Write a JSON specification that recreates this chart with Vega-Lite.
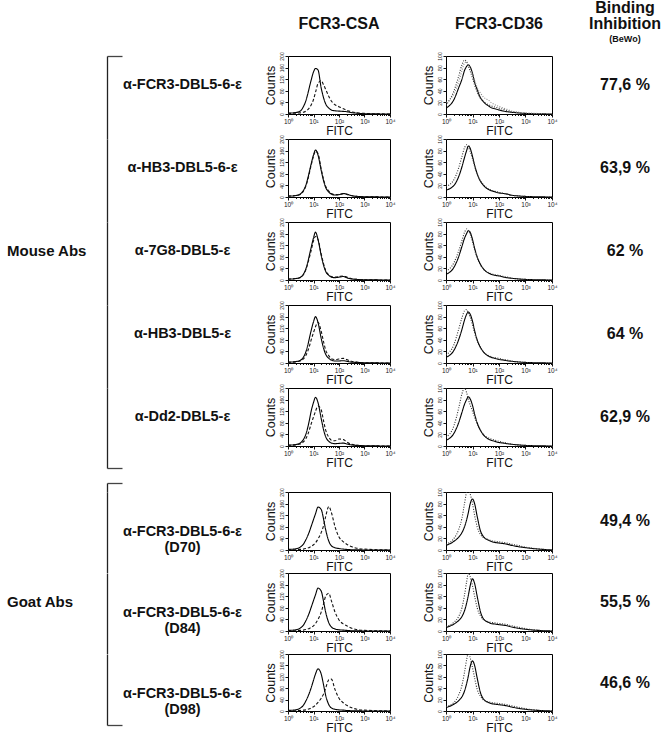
{
"$schema":"https://vega.github.io/schema/vega-lite/v6.json",
"padding":{"left":0,"top":0,"right":0,"bottom":0},
"background":"white",
"data":{"name":"h"},
"config":{"view":{"stroke":null},"font":"Liberation Sans",
"axis":{"grid":false,"domain":false,"labelFont":"Liberation Sans","titleFont":"Liberation Sans","titleFontWeight":"normal","labelColor":"#222","tickColor":"#111","titleColor":"#111"},
"axisX":{"labelFontSize":6.5,"labelPadding":1,"titleFontSize":12,"titlePadding":1,"labelFlush":false,"labelOverlap":false},
"axisY":{"labelFontSize":5,"labelAngle":-90,"labelPadding":1,"tickSize":3,"titleFontSize":12.5,"titlePadding":2,"labelOverlap":false,"labelFlush":false}},
"datasets":{
"mouse":[
{"row":1,"label":"α-FCR3-DBL5-6-ε","pct":"77,6 %","group":"Mouse Abs"},
{"row":2,"label":"α-HB3-DBL5-6-ε","pct":"63,9 %","group":"Mouse Abs"},
{"row":3,"label":"α-7G8-DBL5-ε","pct":"62 %","group":"Mouse Abs"},
{"row":4,"label":"α-HB3-DBL5-ε","pct":"64 %","group":"Mouse Abs"},
{"row":5,"label":"α-Dd2-DBL5-ε","pct":"62,9 %","group":"Mouse Abs"}],
"goat":[
{"row":1,"label":"α-FCR3-DBL5-6-ε\n(D70)","pct":"49,4 %","group":"Goat Abs"},
{"row":2,"label":"α-FCR3-DBL5-6-ε\n(D84)","pct":"55,5 %","group":"Goat Abs"},
{"row":3,"label":"α-FCR3-DBL5-6-ε\n(D98)","pct":"46,6 %","group":"Goat Abs"}],
"h":[
{"p":"M1A","x":1,"a":3,"b":2},{"p":"M1A","x":2,"a":5,"b":3},{"p":"M1A","x":3,"a":10,"b":4},{"p":"M1A","x":4,"a":25,"b":6},{"p":"M1A","x":5,"a":45,"b":10},{"p":"M1A","x":6,"a":70,"b":15},{"p":"M1A","x":7,"a":95,"b":22},{"p":"M1A","x":8,"a":115,"b":30},{"p":"M1A","x":10,"a":145,"b":50},{"p":"M1A","x":12,"a":157,"b":75},{"p":"M1A","x":15,"a":152,"b":105},{"p":"M1A","x":20,"a":90,"b":115},{"p":"M1A","x":25,"a":55,"b":100},{"p":"M1A","x":30,"a":35,"b":85},{"p":"M1A","x":40,"a":20,"b":60},{"p":"M1A","x":50,"a":14,"b":45},{"p":"M1A","x":70,"a":11,"b":32},{"p":"M1A","x":100,"a":10,"b":25},{"p":"M1A","x":150,"a":9,"b":18},{"p":"M1A","x":200,"a":8,"b":13},{"p":"M1A","x":300,"a":5,"b":8},{"p":"M1A","x":500,"a":3,"b":4},{"p":"M1A","x":1000,"a":1,"b":2},{"p":"M1A","x":10000,"a":0,"b":0},
{"p":"M1B","x":1,"a":10,"d":15,"g":20},{"p":"M1B","x":2,"a":25,"d":40,"g":35},{"p":"M1B","x":3,"a":45,"d":65,"g":55},{"p":"M1B","x":4,"a":60,"d":85,"g":75},{"p":"M1B","x":5,"a":75,"d":93,"g":88},{"p":"M1B","x":6,"a":82,"d":90,"g":90},{"p":"M1B","x":7,"a":85,"d":82,"g":85},{"p":"M1B","x":8,"a":82,"d":75,"g":80},{"p":"M1B","x":10,"a":70,"d":62,"g":68},{"p":"M1B","x":12,"a":55,"d":50,"g":58},{"p":"M1B","x":15,"a":42,"d":38,"g":46},{"p":"M1B","x":20,"a":28,"d":27,"g":36},{"p":"M1B","x":25,"a":22,"d":22,"g":30},{"p":"M1B","x":30,"a":18,"d":19,"g":27},{"p":"M1B","x":40,"a":14,"d":16,"g":24},{"p":"M1B","x":50,"a":11,"d":14,"g":20},{"p":"M1B","x":70,"a":9,"d":12,"g":16},{"p":"M1B","x":100,"a":7,"d":10,"g":13},{"p":"M1B","x":150,"a":5,"d":8,"g":10},{"p":"M1B","x":200,"a":4,"d":6,"g":8},{"p":"M1B","x":300,"a":3,"d":4,"g":5},{"p":"M1B","x":500,"a":2,"d":3,"g":3},{"p":"M1B","x":1000,"a":1,"d":1,"g":2},{"p":"M1B","x":10000,"a":0,"d":0,"g":0},
{"p":"M2A","x":1,"a":3,"b":3},{"p":"M2A","x":2,"a":5,"b":5},{"p":"M2A","x":3,"a":10,"b":9},{"p":"M2A","x":4,"a":22,"b":20},{"p":"M2A","x":5,"a":40,"b":38},{"p":"M2A","x":6,"a":65,"b":60},{"p":"M2A","x":7,"a":90,"b":85},{"p":"M2A","x":8,"a":112,"b":108},{"p":"M2A","x":10,"a":145,"b":140},{"p":"M2A","x":12,"a":162,"b":158},{"p":"M2A","x":15,"a":145,"b":150},{"p":"M2A","x":20,"a":92,"b":97},{"p":"M2A","x":25,"a":55,"b":60},{"p":"M2A","x":30,"a":33,"b":37},{"p":"M2A","x":40,"a":17,"b":20},{"p":"M2A","x":50,"a":10,"b":12},{"p":"M2A","x":70,"a":7,"b":8},{"p":"M2A","x":100,"a":8,"b":9},{"p":"M2A","x":150,"a":12,"b":11},{"p":"M2A","x":200,"a":10,"b":9},{"p":"M2A","x":300,"a":5,"b":5},{"p":"M2A","x":500,"a":2,"b":2},{"p":"M2A","x":1000,"a":1,"b":1},{"p":"M2A","x":10000,"a":0,"b":0},
{"p":"M2B","x":1,"a":12,"d":18},{"p":"M2B","x":2,"a":20,"d":30},{"p":"M2B","x":3,"a":35,"d":50},{"p":"M2B","x":4,"a":52,"d":70},{"p":"M2B","x":5,"a":68,"d":85},{"p":"M2B","x":6,"a":80,"d":90},{"p":"M2B","x":7,"a":88,"d":86},{"p":"M2B","x":8,"a":85,"d":80},{"p":"M2B","x":10,"a":70,"d":66},{"p":"M2B","x":12,"a":55,"d":53},{"p":"M2B","x":15,"a":40,"d":40},{"p":"M2B","x":20,"a":27,"d":28},{"p":"M2B","x":25,"a":21,"d":22},{"p":"M2B","x":30,"a":17,"d":18},{"p":"M2B","x":40,"a":13,"d":14},{"p":"M2B","x":50,"a":11,"d":12},{"p":"M2B","x":70,"a":9,"d":10},{"p":"M2B","x":100,"a":7,"d":8},{"p":"M2B","x":150,"a":6,"d":6},{"p":"M2B","x":200,"a":5,"d":5},{"p":"M2B","x":300,"a":3,"d":3},{"p":"M2B","x":500,"a":2,"d":2},{"p":"M2B","x":1000,"a":1,"d":1},{"p":"M2B","x":10000,"a":0,"d":0},
{"p":"M3A","x":1,"a":3,"b":3},{"p":"M3A","x":2,"a":5,"b":5},{"p":"M3A","x":3,"a":9,"b":8},{"p":"M3A","x":4,"a":20,"b":18},{"p":"M3A","x":5,"a":38,"b":35},{"p":"M3A","x":6,"a":62,"b":58},{"p":"M3A","x":7,"a":88,"b":80},{"p":"M3A","x":8,"a":110,"b":100},{"p":"M3A","x":10,"a":145,"b":135},{"p":"M3A","x":12,"a":165,"b":150},{"p":"M3A","x":15,"a":140,"b":140},{"p":"M3A","x":20,"a":85,"b":90},{"p":"M3A","x":25,"a":50,"b":55},{"p":"M3A","x":30,"a":30,"b":33},{"p":"M3A","x":40,"a":16,"b":18},{"p":"M3A","x":50,"a":10,"b":12},{"p":"M3A","x":70,"a":8,"b":10},{"p":"M3A","x":100,"a":10,"b":12},{"p":"M3A","x":150,"a":12,"b":14},{"p":"M3A","x":200,"a":8,"b":10},{"p":"M3A","x":300,"a":4,"b":5},{"p":"M3A","x":500,"a":2,"b":2},{"p":"M3A","x":1000,"a":1,"b":1},{"p":"M3A","x":10000,"a":0,"b":0},
{"p":"M3B","x":1,"a":10,"d":15},{"p":"M3B","x":2,"a":22,"d":30},{"p":"M3B","x":3,"a":40,"d":50},{"p":"M3B","x":4,"a":58,"d":68},{"p":"M3B","x":5,"a":72,"d":82},{"p":"M3B","x":6,"a":80,"d":88},{"p":"M3B","x":7,"a":85,"d":85},{"p":"M3B","x":8,"a":83,"d":80},{"p":"M3B","x":10,"a":70,"d":66},{"p":"M3B","x":12,"a":55,"d":52},{"p":"M3B","x":15,"a":40,"d":38},{"p":"M3B","x":20,"a":27,"d":26},{"p":"M3B","x":25,"a":20,"d":20},{"p":"M3B","x":30,"a":16,"d":16},{"p":"M3B","x":40,"a":12,"d":13},{"p":"M3B","x":50,"a":10,"d":11},{"p":"M3B","x":70,"a":8,"d":9},{"p":"M3B","x":100,"a":7,"d":8},{"p":"M3B","x":150,"a":5,"d":6},{"p":"M3B","x":200,"a":4,"d":5},{"p":"M3B","x":300,"a":3,"d":3},{"p":"M3B","x":500,"a":2,"d":2},{"p":"M3B","x":1000,"a":1,"d":1},{"p":"M3B","x":10000,"a":0,"d":0},
{"p":"M4A","x":1,"a":3,"b":2},{"p":"M4A","x":2,"a":5,"b":4},{"p":"M4A","x":3,"a":9,"b":7},{"p":"M4A","x":4,"a":20,"b":14},{"p":"M4A","x":5,"a":38,"b":26},{"p":"M4A","x":6,"a":62,"b":42},{"p":"M4A","x":7,"a":88,"b":60},{"p":"M4A","x":8,"a":110,"b":78},{"p":"M4A","x":10,"a":142,"b":105},{"p":"M4A","x":12,"a":160,"b":125},{"p":"M4A","x":15,"a":140,"b":140},{"p":"M4A","x":20,"a":85,"b":110},{"p":"M4A","x":25,"a":50,"b":72},{"p":"M4A","x":30,"a":30,"b":45},{"p":"M4A","x":40,"a":16,"b":25},{"p":"M4A","x":50,"a":10,"b":15},{"p":"M4A","x":70,"a":7,"b":12},{"p":"M4A","x":100,"a":7,"b":14},{"p":"M4A","x":150,"a":8,"b":16},{"p":"M4A","x":200,"a":6,"b":12},{"p":"M4A","x":300,"a":3,"b":6},{"p":"M4A","x":500,"a":2,"b":3},{"p":"M4A","x":1000,"a":1,"b":1},{"p":"M4A","x":10000,"a":0,"b":0},
{"p":"M4B","x":1,"a":10,"d":14},{"p":"M4B","x":2,"a":22,"d":32},{"p":"M4B","x":3,"a":40,"d":58},{"p":"M4B","x":4,"a":58,"d":78},{"p":"M4B","x":5,"a":74,"d":90},{"p":"M4B","x":6,"a":84,"d":92},{"p":"M4B","x":7,"a":88,"d":86},{"p":"M4B","x":8,"a":85,"d":80},{"p":"M4B","x":10,"a":72,"d":66},{"p":"M4B","x":12,"a":56,"d":52},{"p":"M4B","x":15,"a":40,"d":38},{"p":"M4B","x":20,"a":27,"d":26},{"p":"M4B","x":25,"a":20,"d":20},{"p":"M4B","x":30,"a":16,"d":16},{"p":"M4B","x":40,"a":12,"d":13},{"p":"M4B","x":50,"a":10,"d":11},{"p":"M4B","x":70,"a":8,"d":9},{"p":"M4B","x":100,"a":6,"d":8},{"p":"M4B","x":150,"a":5,"d":6},{"p":"M4B","x":200,"a":4,"d":5},{"p":"M4B","x":300,"a":3,"d":3},{"p":"M4B","x":500,"a":2,"d":2},{"p":"M4B","x":1000,"a":1,"d":1},{"p":"M4B","x":10000,"a":0,"d":0},
{"p":"M5A","x":1,"a":3,"b":2},{"p":"M5A","x":2,"a":5,"b":4},{"p":"M5A","x":3,"a":10,"b":7},{"p":"M5A","x":4,"a":22,"b":14},{"p":"M5A","x":5,"a":40,"b":25},{"p":"M5A","x":6,"a":65,"b":40},{"p":"M5A","x":7,"a":92,"b":58},{"p":"M5A","x":8,"a":118,"b":75},{"p":"M5A","x":10,"a":150,"b":100},{"p":"M5A","x":12,"a":168,"b":120},{"p":"M5A","x":15,"a":150,"b":138},{"p":"M5A","x":20,"a":95,"b":125},{"p":"M5A","x":25,"a":55,"b":85},{"p":"M5A","x":30,"a":32,"b":55},{"p":"M5A","x":40,"a":16,"b":30},{"p":"M5A","x":50,"a":10,"b":20},{"p":"M5A","x":70,"a":8,"b":18},{"p":"M5A","x":100,"a":9,"b":24},{"p":"M5A","x":150,"a":10,"b":22},{"p":"M5A","x":200,"a":7,"b":14},{"p":"M5A","x":300,"a":4,"b":6},{"p":"M5A","x":500,"a":2,"b":3},{"p":"M5A","x":1000,"a":1,"b":1},{"p":"M5A","x":10000,"a":0,"b":0},
{"p":"M5B","x":1,"a":10,"d":15},{"p":"M5B","x":2,"a":22,"d":35},{"p":"M5B","x":3,"a":40,"d":65},{"p":"M5B","x":4,"a":58,"d":90},{"p":"M5B","x":5,"a":72,"d":100},{"p":"M5B","x":6,"a":80,"d":92},{"p":"M5B","x":7,"a":85,"d":80},{"p":"M5B","x":8,"a":82,"d":72},{"p":"M5B","x":10,"a":70,"d":60},{"p":"M5B","x":12,"a":55,"d":50},{"p":"M5B","x":15,"a":40,"d":38},{"p":"M5B","x":20,"a":27,"d":27},{"p":"M5B","x":25,"a":20,"d":21},{"p":"M5B","x":30,"a":16,"d":17},{"p":"M5B","x":40,"a":12,"d":14},{"p":"M5B","x":50,"a":10,"d":12},{"p":"M5B","x":70,"a":8,"d":10},{"p":"M5B","x":100,"a":6,"d":8},{"p":"M5B","x":150,"a":5,"d":6},{"p":"M5B","x":200,"a":4,"d":5},{"p":"M5B","x":300,"a":3,"d":3},{"p":"M5B","x":500,"a":2,"d":2},{"p":"M5B","x":1000,"a":1,"d":1},{"p":"M5B","x":10000,"a":0,"d":0},
{"p":"G1A","x":1,"a":2,"b":0},{"p":"G1A","x":2,"a":4,"b":1},{"p":"G1A","x":3,"a":10,"b":2},{"p":"G1A","x":4,"a":20,"b":3},{"p":"G1A","x":5,"a":35,"b":5},{"p":"G1A","x":6,"a":50,"b":7},{"p":"G1A","x":7,"a":65,"b":9},{"p":"G1A","x":8,"a":80,"b":12},{"p":"G1A","x":10,"a":105,"b":18},{"p":"G1A","x":12,"a":125,"b":25},{"p":"G1A","x":15,"a":148,"b":38},{"p":"G1A","x":20,"a":140,"b":60},{"p":"G1A","x":25,"a":105,"b":85},{"p":"G1A","x":30,"a":70,"b":115},{"p":"G1A","x":40,"a":30,"b":150},{"p":"G1A","x":50,"a":15,"b":130},{"p":"G1A","x":70,"a":8,"b":80},{"p":"G1A","x":100,"a":5,"b":45},{"p":"G1A","x":150,"a":3,"b":28},{"p":"G1A","x":200,"a":2,"b":20},{"p":"G1A","x":300,"a":1,"b":12},{"p":"G1A","x":500,"a":1,"b":6},{"p":"G1A","x":1000,"a":0,"b":3},{"p":"G1A","x":10000,"a":0,"b":0},
{"p":"G1B","x":1,"a":8,"d":10},{"p":"G1B","x":2,"a":15,"d":20},{"p":"G1B","x":3,"a":22,"d":35},{"p":"G1B","x":4,"a":30,"d":55},{"p":"G1B","x":5,"a":40,"d":80},{"p":"G1B","x":6,"a":52,"d":100},{"p":"G1B","x":7,"a":65,"d":105},{"p":"G1B","x":8,"a":78,"d":98},{"p":"G1B","x":10,"a":88,"d":80},{"p":"G1B","x":12,"a":80,"d":60},{"p":"G1B","x":15,"a":58,"d":40},{"p":"G1B","x":20,"a":33,"d":27},{"p":"G1B","x":25,"a":24,"d":22},{"p":"G1B","x":30,"a":20,"d":20},{"p":"G1B","x":40,"a":17,"d":18},{"p":"G1B","x":50,"a":15,"d":16},{"p":"G1B","x":70,"a":13,"d":15},{"p":"G1B","x":100,"a":12,"d":14},{"p":"G1B","x":150,"a":11,"d":13},{"p":"G1B","x":200,"a":10,"d":12},{"p":"G1B","x":300,"a":8,"d":10},{"p":"G1B","x":500,"a":6,"d":8},{"p":"G1B","x":1000,"a":4,"d":5},{"p":"G1B","x":10000,"a":0,"d":0},
{"p":"G2A","x":1,"a":2,"b":0},{"p":"G2A","x":2,"a":4,"b":1},{"p":"G2A","x":3,"a":10,"b":2},{"p":"G2A","x":4,"a":20,"b":3},{"p":"G2A","x":5,"a":35,"b":5},{"p":"G2A","x":6,"a":50,"b":7},{"p":"G2A","x":7,"a":65,"b":9},{"p":"G2A","x":8,"a":80,"b":12},{"p":"G2A","x":10,"a":105,"b":18},{"p":"G2A","x":12,"a":125,"b":26},{"p":"G2A","x":15,"a":148,"b":40},{"p":"G2A","x":20,"a":138,"b":65},{"p":"G2A","x":25,"a":100,"b":95},{"p":"G2A","x":30,"a":65,"b":120},{"p":"G2A","x":40,"a":28,"b":130},{"p":"G2A","x":50,"a":14,"b":105},{"p":"G2A","x":70,"a":7,"b":65},{"p":"G2A","x":100,"a":4,"b":38},{"p":"G2A","x":150,"a":3,"b":24},{"p":"G2A","x":200,"a":2,"b":18},{"p":"G2A","x":300,"a":1,"b":10},{"p":"G2A","x":500,"a":1,"b":5},{"p":"G2A","x":1000,"a":0,"b":2},{"p":"G2A","x":10000,"a":0,"b":0},
{"p":"G2B","x":1,"a":6,"d":8},{"p":"G2B","x":2,"a":12,"d":15},{"p":"G2B","x":3,"a":18,"d":25},{"p":"G2B","x":4,"a":25,"d":40},{"p":"G2B","x":5,"a":35,"d":62},{"p":"G2B","x":6,"a":48,"d":85},{"p":"G2B","x":7,"a":62,"d":100},{"p":"G2B","x":8,"a":76,"d":95},{"p":"G2B","x":10,"a":90,"d":78},{"p":"G2B","x":12,"a":82,"d":60},{"p":"G2B","x":15,"a":60,"d":40},{"p":"G2B","x":20,"a":33,"d":26},{"p":"G2B","x":25,"a":22,"d":20},{"p":"G2B","x":30,"a":18,"d":18},{"p":"G2B","x":40,"a":15,"d":16},{"p":"G2B","x":50,"a":13,"d":15},{"p":"G2B","x":70,"a":12,"d":14},{"p":"G2B","x":100,"a":11,"d":13},{"p":"G2B","x":150,"a":10,"d":12},{"p":"G2B","x":200,"a":9,"d":11},{"p":"G2B","x":300,"a":7,"d":9},{"p":"G2B","x":500,"a":5,"d":7},{"p":"G2B","x":1000,"a":3,"d":4},{"p":"G2B","x":10000,"a":0,"d":0},
{"p":"G3A","x":1,"a":2,"b":0},{"p":"G3A","x":2,"a":4,"b":1},{"p":"G3A","x":3,"a":10,"b":2},{"p":"G3A","x":4,"a":20,"b":3},{"p":"G3A","x":5,"a":35,"b":4},{"p":"G3A","x":6,"a":50,"b":6},{"p":"G3A","x":7,"a":65,"b":8},{"p":"G3A","x":8,"a":80,"b":10},{"p":"G3A","x":10,"a":108,"b":15},{"p":"G3A","x":12,"a":130,"b":20},{"p":"G3A","x":15,"a":148,"b":30},{"p":"G3A","x":20,"a":130,"b":45},{"p":"G3A","x":25,"a":90,"b":60},{"p":"G3A","x":30,"a":55,"b":80},{"p":"G3A","x":40,"a":22,"b":110},{"p":"G3A","x":50,"a":11,"b":112},{"p":"G3A","x":70,"a":6,"b":75},{"p":"G3A","x":100,"a":4,"b":45},{"p":"G3A","x":150,"a":3,"b":28},{"p":"G3A","x":200,"a":2,"b":20},{"p":"G3A","x":300,"a":1,"b":12},{"p":"G3A","x":500,"a":1,"b":6},{"p":"G3A","x":1000,"a":0,"b":3},{"p":"G3A","x":10000,"a":0,"b":0},
{"p":"G3B","x":1,"a":6,"d":8},{"p":"G3B","x":2,"a":12,"d":15},{"p":"G3B","x":3,"a":18,"d":28},{"p":"G3B","x":4,"a":25,"d":45},{"p":"G3B","x":5,"a":35,"d":68},{"p":"G3B","x":6,"a":48,"d":90},{"p":"G3B","x":7,"a":62,"d":102},{"p":"G3B","x":8,"a":76,"d":95},{"p":"G3B","x":10,"a":88,"d":76},{"p":"G3B","x":12,"a":80,"d":58},{"p":"G3B","x":15,"a":58,"d":38},{"p":"G3B","x":20,"a":32,"d":26},{"p":"G3B","x":25,"a":22,"d":20},{"p":"G3B","x":30,"a":18,"d":18},{"p":"G3B","x":40,"a":15,"d":16},{"p":"G3B","x":50,"a":13,"d":15},{"p":"G3B","x":70,"a":12,"d":14},{"p":"G3B","x":100,"a":11,"d":13},{"p":"G3B","x":150,"a":10,"d":12},{"p":"G3B","x":200,"a":9,"d":11},{"p":"G3B","x":300,"a":7,"d":9},{"p":"G3B","x":500,"a":5,"d":7},{"p":"G3B","x":1000,"a":3,"d":4},{"p":"G3B","x":10000,"a":0,"d":0}
]},
"bounds":"flush",
"columns":5,
"spacing":{"row":0,"column":56},
"resolve":{"scale":{"x":"independent","y":"independent"}},
"concat":[
{"width":107,"height":83,"data":{"name":"mouse"},"transform":[{"filter":"datum.row==1"}],"mark":{"type":"text","align":"left","baseline":"middle","fontSize":15,"fontWeight":"bold","xOffset":-46.5,"color":"#111"},"encoding":{"y":{"field":"row","type":"quantitative","scale":{"domain":[0.3494,1.3494],"nice":false,"zero":false},"axis":{"orient":"right","domain":true,"domainColor":"#222","domainWidth":1.3,"labels":false,"ticks":true,"tickSize":15,"tickWidth":1.3,"tickColor":"#444","title":null,"values":[1.3494]}},"text":{"value":""}}},
{"width":69,"height":58,"data":{"name":"mouse"},"transform":[{"filter":"datum.row==1"}],"mark":{"type":"text","baseline":"middle","fontSize":14.5,"fontWeight":"bold","xOffset":-15,"color":"#111","lineBreak":"\n","lineHeight":16},"encoding":{"text":{"field":"label"}}},
{"width":102,"height":58,"view":{"stroke":"#000","strokeWidth":1},"title":{"text":"FCR3-CSA","fontSize":16,"fontWeight":"bold","offset":20,"color":"#111"},
 "transform":[{"filter":"datum.p=='M1A'"},{"fold":["a","b","d","g"],"as":["s","v"]},{"filter":"isValid(datum.v)"}],
 "mark":{"type":"line","clip":true,"strokeWidth":1.1,"interpolate":"monotone"},
 "encoding":{"x":{"field":"x","type":"quantitative","scale":{"type":"log","domain":[1,10000]},"axis":{"title":"FITC","values":[1,2,3,4,5,6,7,8,9,10,20,30,40,50,60,70,80,90,100,200,300,400,500,600,700,800,900,1000,2000,3000,4000,5000,6000,7000,8000,9000,10000],"labelExpr":"datum.value==1?'10⁰':datum.value==10?'10¹':datum.value==100?'10²':datum.value==1000?'10³':datum.value==10000?'10⁴':''","tickSize":{"condition":{"test":"datum.value==1||datum.value==10||datum.value==100||datum.value==1000||datum.value==10000","value":3},"value":1.5}}},
  "y":{"field":"v","type":"quantitative","scale":{"domain":[0,200],"nice":false},"axis":{"title":"Counts","values":[0,40,80,120,160,200]}},
  "color":{"field":"s","type":"nominal","scale":{"domain":["a","b","d","g"],"range":["#000000","#111111","#333333","#888888"]},"legend":null},
  "strokeDash":{"field":"s","type":"nominal","scale":{"domain":["a","b","d","g"],"range":[[1,0],[3,2],[1,1.5],[1,1.5]]},"legend":null}}},
{"width":106,"height":58,"view":{"stroke":"#000","strokeWidth":1},"title":{"text":"FCR3-CD36","fontSize":16,"fontWeight":"bold","offset":20,"color":"#111"},
 "transform":[{"filter":"datum.p=='M1B'"},{"fold":["a","b","d","g"],"as":["s","v"]},{"filter":"isValid(datum.v)"}],
 "mark":{"type":"line","clip":true,"strokeWidth":1.1,"interpolate":"monotone"},
 "encoding":{"x":{"field":"x","type":"quantitative","scale":{"type":"log","domain":[1,10000]},"axis":{"title":"FITC","values":[1,2,3,4,5,6,7,8,9,10,20,30,40,50,60,70,80,90,100,200,300,400,500,600,700,800,900,1000,2000,3000,4000,5000,6000,7000,8000,9000,10000],"labelExpr":"datum.value==1?'10⁰':datum.value==10?'10¹':datum.value==100?'10²':datum.value==1000?'10³':datum.value==10000?'10⁴':''","tickSize":{"condition":{"test":"datum.value==1||datum.value==10||datum.value==100||datum.value==1000||datum.value==10000","value":3},"value":1.5}}},
  "y":{"field":"v","type":"quantitative","scale":{"domain":[0,100],"nice":false},"axis":{"title":"Counts","values":[0,20,40,60,80,100]}},
  "color":{"field":"s","type":"nominal","scale":{"domain":["a","b","d","g"],"range":["#000000","#111111","#333333","#888888"]},"legend":null},
  "strokeDash":{"field":"s","type":"nominal","scale":{"domain":["a","b","d","g"],"range":[[1,0],[3,2],[1,1.5],[1,1.5]]},"legend":null}}},
{"width":34,"height":58,"data":{"name":"mouse"},"transform":[{"filter":"datum.row==1"}],"title":{"text":["Binding","Inhibition"],"subtitle":"(BeWo)","fontSize":16,"fontWeight":"bold","lineHeight":16,"subtitleFontSize":9,"subtitleFontWeight":"bold","subtitlePadding":3,"offset":12,"color":"#111","subtitleColor":"#111","anchor":"middle"},"mark":{"type":"text","baseline":"middle","fontSize":16,"fontWeight":"bold","color":"#111"},"encoding":{"text":{"field":"pct"}}},

{"width":107,"height":83,"data":{"name":"mouse"},"transform":[{"filter":"datum.row==2"}],"mark":{"type":"text","align":"left","baseline":"middle","fontSize":15,"fontWeight":"bold","xOffset":-46.5,"color":"#111"},"encoding":{"y":{"field":"row","type":"quantitative","scale":{"domain":[1.3494,2.3494],"nice":false,"zero":false},"axis":{"orient":"right","domain":true,"domainColor":"#222","domainWidth":1.3,"labels":false,"ticks":false,"title":null}},"text":{"value":""}}},
{"width":69,"height":58,"data":{"name":"mouse"},"transform":[{"filter":"datum.row==2"}],"mark":{"type":"text","baseline":"middle","fontSize":14.5,"fontWeight":"bold","xOffset":-15,"color":"#111","lineBreak":"\n","lineHeight":16},"encoding":{"text":{"field":"label"}}},
{"width":102,"height":58,"view":{"stroke":"#000","strokeWidth":1},
 "transform":[{"filter":"datum.p=='M2A'"},{"fold":["a","b","d","g"],"as":["s","v"]},{"filter":"isValid(datum.v)"}],
 "mark":{"type":"line","clip":true,"strokeWidth":1.1,"interpolate":"monotone"},
 "encoding":{"x":{"field":"x","type":"quantitative","scale":{"type":"log","domain":[1,10000]},"axis":{"title":"FITC","values":[1,2,3,4,5,6,7,8,9,10,20,30,40,50,60,70,80,90,100,200,300,400,500,600,700,800,900,1000,2000,3000,4000,5000,6000,7000,8000,9000,10000],"labelExpr":"datum.value==1?'10⁰':datum.value==10?'10¹':datum.value==100?'10²':datum.value==1000?'10³':datum.value==10000?'10⁴':''","tickSize":{"condition":{"test":"datum.value==1||datum.value==10||datum.value==100||datum.value==1000||datum.value==10000","value":3},"value":1.5}}},
  "y":{"field":"v","type":"quantitative","scale":{"domain":[0,200],"nice":false},"axis":{"title":"Counts","values":[0,40,80,120,160,200]}},
  "color":{"field":"s","type":"nominal","scale":{"domain":["a","b","d","g"],"range":["#000000","#111111","#333333","#888888"]},"legend":null},
  "strokeDash":{"field":"s","type":"nominal","scale":{"domain":["a","b","d","g"],"range":[[1,0],[3,2],[1,1.5],[1,1.5]]},"legend":null}}},
{"width":106,"height":58,"view":{"stroke":"#000","strokeWidth":1},
 "transform":[{"filter":"datum.p=='M2B'"},{"fold":["a","b","d","g"],"as":["s","v"]},{"filter":"isValid(datum.v)"}],
 "mark":{"type":"line","clip":true,"strokeWidth":1.1,"interpolate":"monotone"},
 "encoding":{"x":{"field":"x","type":"quantitative","scale":{"type":"log","domain":[1,10000]},"axis":{"title":"FITC","values":[1,2,3,4,5,6,7,8,9,10,20,30,40,50,60,70,80,90,100,200,300,400,500,600,700,800,900,1000,2000,3000,4000,5000,6000,7000,8000,9000,10000],"labelExpr":"datum.value==1?'10⁰':datum.value==10?'10¹':datum.value==100?'10²':datum.value==1000?'10³':datum.value==10000?'10⁴':''","tickSize":{"condition":{"test":"datum.value==1||datum.value==10||datum.value==100||datum.value==1000||datum.value==10000","value":3},"value":1.5}}},
  "y":{"field":"v","type":"quantitative","scale":{"domain":[0,100],"nice":false},"axis":{"title":"Counts","values":[0,20,40,60,80,100]}},
  "color":{"field":"s","type":"nominal","scale":{"domain":["a","b","d","g"],"range":["#000000","#111111","#333333","#888888"]},"legend":null},
  "strokeDash":{"field":"s","type":"nominal","scale":{"domain":["a","b","d","g"],"range":[[1,0],[3,2],[1,1.5],[1,1.5]]},"legend":null}}},
{"width":34,"height":58,"data":{"name":"mouse"},"transform":[{"filter":"datum.row==2"}],"mark":{"type":"text","baseline":"middle","fontSize":16,"fontWeight":"bold","color":"#111"},"encoding":{"text":{"field":"pct"}}},

{"width":107,"height":83,"data":{"name":"mouse"},"transform":[{"filter":"datum.row==3"}],"mark":{"type":"text","align":"left","baseline":"middle","fontSize":15,"fontWeight":"bold","xOffset":-46.5,"color":"#111"},"encoding":{"y":{"field":"row","type":"quantitative","scale":{"domain":[2.3494,3.3494],"nice":false,"zero":false},"axis":{"orient":"right","domain":true,"domainColor":"#222","domainWidth":1.3,"labels":false,"ticks":false,"title":null}},"text":{"field":"group"}}},
{"width":69,"height":58,"data":{"name":"mouse"},"transform":[{"filter":"datum.row==3"}],"mark":{"type":"text","baseline":"middle","fontSize":14.5,"fontWeight":"bold","xOffset":-15,"color":"#111","lineBreak":"\n","lineHeight":16},"encoding":{"text":{"field":"label"}}},
{"width":102,"height":58,"view":{"stroke":"#000","strokeWidth":1},
 "transform":[{"filter":"datum.p=='M3A'"},{"fold":["a","b","d","g"],"as":["s","v"]},{"filter":"isValid(datum.v)"}],
 "mark":{"type":"line","clip":true,"strokeWidth":1.1,"interpolate":"monotone"},
 "encoding":{"x":{"field":"x","type":"quantitative","scale":{"type":"log","domain":[1,10000]},"axis":{"title":"FITC","values":[1,2,3,4,5,6,7,8,9,10,20,30,40,50,60,70,80,90,100,200,300,400,500,600,700,800,900,1000,2000,3000,4000,5000,6000,7000,8000,9000,10000],"labelExpr":"datum.value==1?'10⁰':datum.value==10?'10¹':datum.value==100?'10²':datum.value==1000?'10³':datum.value==10000?'10⁴':''","tickSize":{"condition":{"test":"datum.value==1||datum.value==10||datum.value==100||datum.value==1000||datum.value==10000","value":3},"value":1.5}}},
  "y":{"field":"v","type":"quantitative","scale":{"domain":[0,200],"nice":false},"axis":{"title":"Counts","values":[0,40,80,120,160,200]}},
  "color":{"field":"s","type":"nominal","scale":{"domain":["a","b","d","g"],"range":["#000000","#111111","#333333","#888888"]},"legend":null},
  "strokeDash":{"field":"s","type":"nominal","scale":{"domain":["a","b","d","g"],"range":[[1,0],[3,2],[1,1.5],[1,1.5]]},"legend":null}}},
{"width":106,"height":58,"view":{"stroke":"#000","strokeWidth":1},
 "transform":[{"filter":"datum.p=='M3B'"},{"fold":["a","b","d","g"],"as":["s","v"]},{"filter":"isValid(datum.v)"}],
 "mark":{"type":"line","clip":true,"strokeWidth":1.1,"interpolate":"monotone"},
 "encoding":{"x":{"field":"x","type":"quantitative","scale":{"type":"log","domain":[1,10000]},"axis":{"title":"FITC","values":[1,2,3,4,5,6,7,8,9,10,20,30,40,50,60,70,80,90,100,200,300,400,500,600,700,800,900,1000,2000,3000,4000,5000,6000,7000,8000,9000,10000],"labelExpr":"datum.value==1?'10⁰':datum.value==10?'10¹':datum.value==100?'10²':datum.value==1000?'10³':datum.value==10000?'10⁴':''","tickSize":{"condition":{"test":"datum.value==1||datum.value==10||datum.value==100||datum.value==1000||datum.value==10000","value":3},"value":1.5}}},
  "y":{"field":"v","type":"quantitative","scale":{"domain":[0,100],"nice":false},"axis":{"title":"Counts","values":[0,20,40,60,80,100]}},
  "color":{"field":"s","type":"nominal","scale":{"domain":["a","b","d","g"],"range":["#000000","#111111","#333333","#888888"]},"legend":null},
  "strokeDash":{"field":"s","type":"nominal","scale":{"domain":["a","b","d","g"],"range":[[1,0],[3,2],[1,1.5],[1,1.5]]},"legend":null}}},
{"width":34,"height":58,"data":{"name":"mouse"},"transform":[{"filter":"datum.row==3"}],"mark":{"type":"text","baseline":"middle","fontSize":16,"fontWeight":"bold","color":"#111"},"encoding":{"text":{"field":"pct"}}},

{"width":107,"height":83,"data":{"name":"mouse"},"transform":[{"filter":"datum.row==4"}],"mark":{"type":"text","align":"left","baseline":"middle","fontSize":15,"fontWeight":"bold","xOffset":-46.5,"color":"#111"},"encoding":{"y":{"field":"row","type":"quantitative","scale":{"domain":[3.3494,4.3494],"nice":false,"zero":false},"axis":{"orient":"right","domain":true,"domainColor":"#222","domainWidth":1.3,"labels":false,"ticks":false,"title":null}},"text":{"value":""}}},
{"width":69,"height":58,"data":{"name":"mouse"},"transform":[{"filter":"datum.row==4"}],"mark":{"type":"text","baseline":"middle","fontSize":14.5,"fontWeight":"bold","xOffset":-15,"color":"#111","lineBreak":"\n","lineHeight":16},"encoding":{"text":{"field":"label"}}},
{"width":102,"height":58,"view":{"stroke":"#000","strokeWidth":1},
 "transform":[{"filter":"datum.p=='M4A'"},{"fold":["a","b","d","g"],"as":["s","v"]},{"filter":"isValid(datum.v)"}],
 "mark":{"type":"line","clip":true,"strokeWidth":1.1,"interpolate":"monotone"},
 "encoding":{"x":{"field":"x","type":"quantitative","scale":{"type":"log","domain":[1,10000]},"axis":{"title":"FITC","values":[1,2,3,4,5,6,7,8,9,10,20,30,40,50,60,70,80,90,100,200,300,400,500,600,700,800,900,1000,2000,3000,4000,5000,6000,7000,8000,9000,10000],"labelExpr":"datum.value==1?'10⁰':datum.value==10?'10¹':datum.value==100?'10²':datum.value==1000?'10³':datum.value==10000?'10⁴':''","tickSize":{"condition":{"test":"datum.value==1||datum.value==10||datum.value==100||datum.value==1000||datum.value==10000","value":3},"value":1.5}}},
  "y":{"field":"v","type":"quantitative","scale":{"domain":[0,200],"nice":false},"axis":{"title":"Counts","values":[0,40,80,120,160,200]}},
  "color":{"field":"s","type":"nominal","scale":{"domain":["a","b","d","g"],"range":["#000000","#111111","#333333","#888888"]},"legend":null},
  "strokeDash":{"field":"s","type":"nominal","scale":{"domain":["a","b","d","g"],"range":[[1,0],[3,2],[1,1.5],[1,1.5]]},"legend":null}}},
{"width":106,"height":58,"view":{"stroke":"#000","strokeWidth":1},
 "transform":[{"filter":"datum.p=='M4B'"},{"fold":["a","b","d","g"],"as":["s","v"]},{"filter":"isValid(datum.v)"}],
 "mark":{"type":"line","clip":true,"strokeWidth":1.1,"interpolate":"monotone"},
 "encoding":{"x":{"field":"x","type":"quantitative","scale":{"type":"log","domain":[1,10000]},"axis":{"title":"FITC","values":[1,2,3,4,5,6,7,8,9,10,20,30,40,50,60,70,80,90,100,200,300,400,500,600,700,800,900,1000,2000,3000,4000,5000,6000,7000,8000,9000,10000],"labelExpr":"datum.value==1?'10⁰':datum.value==10?'10¹':datum.value==100?'10²':datum.value==1000?'10³':datum.value==10000?'10⁴':''","tickSize":{"condition":{"test":"datum.value==1||datum.value==10||datum.value==100||datum.value==1000||datum.value==10000","value":3},"value":1.5}}},
  "y":{"field":"v","type":"quantitative","scale":{"domain":[0,100],"nice":false},"axis":{"title":"Counts","values":[0,20,40,60,80,100]}},
  "color":{"field":"s","type":"nominal","scale":{"domain":["a","b","d","g"],"range":["#000000","#111111","#333333","#888888"]},"legend":null},
  "strokeDash":{"field":"s","type":"nominal","scale":{"domain":["a","b","d","g"],"range":[[1,0],[3,2],[1,1.5],[1,1.5]]},"legend":null}}},
{"width":34,"height":58,"data":{"name":"mouse"},"transform":[{"filter":"datum.row==4"}],"mark":{"type":"text","baseline":"middle","fontSize":16,"fontWeight":"bold","color":"#111"},"encoding":{"text":{"field":"pct"}}},

{"width":107,"height":80,"data":{"name":"mouse"},"transform":[{"filter":"datum.row==5"}],"mark":{"type":"text","align":"left","baseline":"middle","fontSize":15,"fontWeight":"bold","xOffset":-46.5,"color":"#111"},"encoding":{"y":{"field":"row","type":"quantitative","scale":{"domain":[4.3625,5.3625],"nice":false,"zero":false},"axis":{"orient":"right","domain":true,"domainColor":"#222","domainWidth":1.3,"labels":false,"ticks":true,"tickSize":15,"tickWidth":1.3,"tickColor":"#444","title":null,"values":[4.3625]}},"text":{"value":""}}},
{"width":69,"height":58,"data":{"name":"mouse"},"transform":[{"filter":"datum.row==5"}],"mark":{"type":"text","baseline":"middle","fontSize":14.5,"fontWeight":"bold","xOffset":-15,"color":"#111","lineBreak":"\n","lineHeight":16},"encoding":{"text":{"field":"label"}}},
{"width":102,"height":58,"view":{"stroke":"#000","strokeWidth":1},
 "transform":[{"filter":"datum.p=='M5A'"},{"fold":["a","b","d","g"],"as":["s","v"]},{"filter":"isValid(datum.v)"}],
 "mark":{"type":"line","clip":true,"strokeWidth":1.1,"interpolate":"monotone"},
 "encoding":{"x":{"field":"x","type":"quantitative","scale":{"type":"log","domain":[1,10000]},"axis":{"title":"FITC","values":[1,2,3,4,5,6,7,8,9,10,20,30,40,50,60,70,80,90,100,200,300,400,500,600,700,800,900,1000,2000,3000,4000,5000,6000,7000,8000,9000,10000],"labelExpr":"datum.value==1?'10⁰':datum.value==10?'10¹':datum.value==100?'10²':datum.value==1000?'10³':datum.value==10000?'10⁴':''","tickSize":{"condition":{"test":"datum.value==1||datum.value==10||datum.value==100||datum.value==1000||datum.value==10000","value":3},"value":1.5}}},
  "y":{"field":"v","type":"quantitative","scale":{"domain":[0,200],"nice":false},"axis":{"title":"Counts","values":[0,40,80,120,160,200]}},
  "color":{"field":"s","type":"nominal","scale":{"domain":["a","b","d","g"],"range":["#000000","#111111","#333333","#888888"]},"legend":null},
  "strokeDash":{"field":"s","type":"nominal","scale":{"domain":["a","b","d","g"],"range":[[1,0],[3,2],[1,1.5],[1,1.5]]},"legend":null}}},
{"width":106,"height":58,"view":{"stroke":"#000","strokeWidth":1},
 "transform":[{"filter":"datum.p=='M5B'"},{"fold":["a","b","d","g"],"as":["s","v"]},{"filter":"isValid(datum.v)"}],
 "mark":{"type":"line","clip":true,"strokeWidth":1.1,"interpolate":"monotone"},
 "encoding":{"x":{"field":"x","type":"quantitative","scale":{"type":"log","domain":[1,10000]},"axis":{"title":"FITC","values":[1,2,3,4,5,6,7,8,9,10,20,30,40,50,60,70,80,90,100,200,300,400,500,600,700,800,900,1000,2000,3000,4000,5000,6000,7000,8000,9000,10000],"labelExpr":"datum.value==1?'10⁰':datum.value==10?'10¹':datum.value==100?'10²':datum.value==1000?'10³':datum.value==10000?'10⁴':''","tickSize":{"condition":{"test":"datum.value==1||datum.value==10||datum.value==100||datum.value==1000||datum.value==10000","value":3},"value":1.5}}},
  "y":{"field":"v","type":"quantitative","scale":{"domain":[0,100],"nice":false},"axis":{"title":"Counts","values":[0,20,40,60,80,100]}},
  "color":{"field":"s","type":"nominal","scale":{"domain":["a","b","d","g"],"range":["#000000","#111111","#333333","#888888"]},"legend":null},
  "strokeDash":{"field":"s","type":"nominal","scale":{"domain":["a","b","d","g"],"range":[[1,0],[3,2],[1,1.5],[1,1.5]]},"legend":null}}},
{"width":34,"height":58,"data":{"name":"mouse"},"transform":[{"filter":"datum.row==5"}],"mark":{"type":"text","baseline":"middle","fontSize":16,"fontWeight":"bold","color":"#111"},"encoding":{"text":{"field":"pct"}}},

{"width":1,"height":15,"data":{"values":[]},"mark":"text","encoding":{}},
{"width":1,"height":1,"data":{"values":[]},"mark":"text","encoding":{}},
{"width":1,"height":1,"data":{"values":[]},"mark":"text","encoding":{}},
{"width":1,"height":1,"data":{"values":[]},"mark":"text","encoding":{}},
{"width":1,"height":1,"data":{"values":[]},"mark":"text","encoding":{}},

{"width":107,"height":9,"data":{"name":"goat"},"transform":[{"filter":"datum.row==1"}],"mark":{"type":"text","color":"#111"},"encoding":{"y":{"field":"row","type":"quantitative","scale":{"domain":[0.5,1.5],"nice":false,"zero":false},"axis":{"orient":"right","domain":true,"domainColor":"#222","domainWidth":1.3,"labels":false,"ticks":true,"tickSize":15,"tickWidth":1.3,"tickColor":"#444","title":null,"values":[1.5]}},"text":{"value":""}}},
{"width":1,"height":1,"data":{"values":[]},"mark":"text","encoding":{}},
{"width":1,"height":1,"data":{"values":[]},"mark":"text","encoding":{}},
{"width":1,"height":1,"data":{"values":[]},"mark":"text","encoding":{}},
{"width":1,"height":1,"data":{"values":[]},"mark":"text","encoding":{}},

{"width":107,"height":80.5,"data":{"name":"goat"},"transform":[{"filter":"datum.row==1"}],"mark":{"type":"text","align":"left","baseline":"middle","fontSize":15,"fontWeight":"bold","xOffset":-46.5,"color":"#111"},"encoding":{"y":{"field":"row","type":"quantitative","scale":{"domain":[0.3602,1.3602],"nice":false,"zero":false},"axis":{"orient":"right","domain":true,"domainColor":"#222","domainWidth":1.3,"labels":false,"ticks":false,"title":null}},"text":{"value":""}}},
{"width":69,"height":58,"data":{"name":"goat"},"transform":[{"filter":"datum.row==1"}],"mark":{"type":"text","baseline":"middle","fontSize":14.5,"fontWeight":"bold","xOffset":-15,"dy":11,"color":"#111","lineBreak":"\n","lineHeight":16},"encoding":{"text":{"field":"label"}}},
{"width":102,"height":58,"view":{"stroke":"#000","strokeWidth":1},
 "transform":[{"filter":"datum.p=='G1A'"},{"fold":["a","b","d","g"],"as":["s","v"]},{"filter":"isValid(datum.v)"}],
 "mark":{"type":"line","clip":true,"strokeWidth":1.1,"interpolate":"monotone"},
 "encoding":{"x":{"field":"x","type":"quantitative","scale":{"type":"log","domain":[1,10000]},"axis":{"title":"FITC","values":[1,2,3,4,5,6,7,8,9,10,20,30,40,50,60,70,80,90,100,200,300,400,500,600,700,800,900,1000,2000,3000,4000,5000,6000,7000,8000,9000,10000],"labelExpr":"datum.value==1?'10⁰':datum.value==10?'10¹':datum.value==100?'10²':datum.value==1000?'10³':datum.value==10000?'10⁴':''","tickSize":{"condition":{"test":"datum.value==1||datum.value==10||datum.value==100||datum.value==1000||datum.value==10000","value":3},"value":1.5}}},
  "y":{"field":"v","type":"quantitative","scale":{"domain":[0,200],"nice":false},"axis":{"title":"Counts","values":[0,40,80,120,160,200]}},
  "color":{"field":"s","type":"nominal","scale":{"domain":["a","b","d","g"],"range":["#000000","#111111","#333333","#888888"]},"legend":null},
  "strokeDash":{"field":"s","type":"nominal","scale":{"domain":["a","b","d","g"],"range":[[1,0],[3,2],[1,1.5],[1,1.5]]},"legend":null}}},
{"width":106,"height":58,"view":{"stroke":"#000","strokeWidth":1},
 "transform":[{"filter":"datum.p=='G1B'"},{"fold":["a","b","d","g"],"as":["s","v"]},{"filter":"isValid(datum.v)"}],
 "mark":{"type":"line","clip":true,"strokeWidth":1.1,"interpolate":"monotone"},
 "encoding":{"x":{"field":"x","type":"quantitative","scale":{"type":"log","domain":[1,10000]},"axis":{"title":"FITC","values":[1,2,3,4,5,6,7,8,9,10,20,30,40,50,60,70,80,90,100,200,300,400,500,600,700,800,900,1000,2000,3000,4000,5000,6000,7000,8000,9000,10000],"labelExpr":"datum.value==1?'10⁰':datum.value==10?'10¹':datum.value==100?'10²':datum.value==1000?'10³':datum.value==10000?'10⁴':''","tickSize":{"condition":{"test":"datum.value==1||datum.value==10||datum.value==100||datum.value==1000||datum.value==10000","value":3},"value":1.5}}},
  "y":{"field":"v","type":"quantitative","scale":{"domain":[0,100],"nice":false},"axis":{"title":"Counts","values":[0,20,40,60,80,100]}},
  "color":{"field":"s","type":"nominal","scale":{"domain":["a","b","d","g"],"range":["#000000","#111111","#333333","#888888"]},"legend":null},
  "strokeDash":{"field":"s","type":"nominal","scale":{"domain":["a","b","d","g"],"range":[[1,0],[3,2],[1,1.5],[1,1.5]]},"legend":null}}},
{"width":34,"height":58,"data":{"name":"goat"},"transform":[{"filter":"datum.row==1"}],"mark":{"type":"text","baseline":"middle","fontSize":16,"fontWeight":"bold","color":"#111"},"encoding":{"text":{"field":"pct"}}},

{"width":107,"height":80.5,"data":{"name":"goat"},"transform":[{"filter":"datum.row==2"}],"mark":{"type":"text","align":"left","baseline":"middle","fontSize":15,"fontWeight":"bold","xOffset":-46.5,"color":"#111"},"encoding":{"y":{"field":"row","type":"quantitative","scale":{"domain":[1.3602,2.3602],"nice":false,"zero":false},"axis":{"orient":"right","domain":true,"domainColor":"#222","domainWidth":1.3,"labels":false,"ticks":false,"title":null}},"text":{"field":"group"}}},
{"width":69,"height":58,"data":{"name":"goat"},"transform":[{"filter":"datum.row==2"}],"mark":{"type":"text","baseline":"middle","fontSize":14.5,"fontWeight":"bold","xOffset":-15,"dy":11,"color":"#111","lineBreak":"\n","lineHeight":16},"encoding":{"text":{"field":"label"}}},
{"width":102,"height":58,"view":{"stroke":"#000","strokeWidth":1},
 "transform":[{"filter":"datum.p=='G2A'"},{"fold":["a","b","d","g"],"as":["s","v"]},{"filter":"isValid(datum.v)"}],
 "mark":{"type":"line","clip":true,"strokeWidth":1.1,"interpolate":"monotone"},
 "encoding":{"x":{"field":"x","type":"quantitative","scale":{"type":"log","domain":[1,10000]},"axis":{"title":"FITC","values":[1,2,3,4,5,6,7,8,9,10,20,30,40,50,60,70,80,90,100,200,300,400,500,600,700,800,900,1000,2000,3000,4000,5000,6000,7000,8000,9000,10000],"labelExpr":"datum.value==1?'10⁰':datum.value==10?'10¹':datum.value==100?'10²':datum.value==1000?'10³':datum.value==10000?'10⁴':''","tickSize":{"condition":{"test":"datum.value==1||datum.value==10||datum.value==100||datum.value==1000||datum.value==10000","value":3},"value":1.5}}},
  "y":{"field":"v","type":"quantitative","scale":{"domain":[0,200],"nice":false},"axis":{"title":"Counts","values":[0,40,80,120,160,200]}},
  "color":{"field":"s","type":"nominal","scale":{"domain":["a","b","d","g"],"range":["#000000","#111111","#333333","#888888"]},"legend":null},
  "strokeDash":{"field":"s","type":"nominal","scale":{"domain":["a","b","d","g"],"range":[[1,0],[3,2],[1,1.5],[1,1.5]]},"legend":null}}},
{"width":106,"height":58,"view":{"stroke":"#000","strokeWidth":1},
 "transform":[{"filter":"datum.p=='G2B'"},{"fold":["a","b","d","g"],"as":["s","v"]},{"filter":"isValid(datum.v)"}],
 "mark":{"type":"line","clip":true,"strokeWidth":1.1,"interpolate":"monotone"},
 "encoding":{"x":{"field":"x","type":"quantitative","scale":{"type":"log","domain":[1,10000]},"axis":{"title":"FITC","values":[1,2,3,4,5,6,7,8,9,10,20,30,40,50,60,70,80,90,100,200,300,400,500,600,700,800,900,1000,2000,3000,4000,5000,6000,7000,8000,9000,10000],"labelExpr":"datum.value==1?'10⁰':datum.value==10?'10¹':datum.value==100?'10²':datum.value==1000?'10³':datum.value==10000?'10⁴':''","tickSize":{"condition":{"test":"datum.value==1||datum.value==10||datum.value==100||datum.value==1000||datum.value==10000","value":3},"value":1.5}}},
  "y":{"field":"v","type":"quantitative","scale":{"domain":[0,100],"nice":false},"axis":{"title":"Counts","values":[0,20,40,60,80,100]}},
  "color":{"field":"s","type":"nominal","scale":{"domain":["a","b","d","g"],"range":["#000000","#111111","#333333","#888888"]},"legend":null},
  "strokeDash":{"field":"s","type":"nominal","scale":{"domain":["a","b","d","g"],"range":[[1,0],[3,2],[1,1.5],[1,1.5]]},"legend":null}}},
{"width":34,"height":58,"data":{"name":"goat"},"transform":[{"filter":"datum.row==2"}],"mark":{"type":"text","baseline":"middle","fontSize":16,"fontWeight":"bold","color":"#111"},"encoding":{"text":{"field":"pct"}}},

{"width":107,"height":71,"data":{"name":"goat"},"transform":[{"filter":"datum.row==3"}],"mark":{"type":"text","align":"left","baseline":"middle","fontSize":15,"fontWeight":"bold","xOffset":-46.5,"color":"#111"},"encoding":{"y":{"field":"row","type":"quantitative","scale":{"domain":[2.4085,3.4085],"nice":false,"zero":false},"axis":{"orient":"right","domain":true,"domainColor":"#222","domainWidth":1.3,"labels":false,"ticks":true,"tickSize":15,"tickWidth":1.3,"tickColor":"#444","title":null,"values":[2.4085]}},"text":{"value":""}}},
{"width":69,"height":58,"data":{"name":"goat"},"transform":[{"filter":"datum.row==3"}],"mark":{"type":"text","baseline":"middle","fontSize":14.5,"fontWeight":"bold","xOffset":-15,"dy":11,"color":"#111","lineBreak":"\n","lineHeight":16},"encoding":{"text":{"field":"label"}}},
{"width":102,"height":57,"view":{"stroke":"#000","strokeWidth":1},
 "transform":[{"filter":"datum.p=='G3A'"},{"fold":["a","b","d","g"],"as":["s","v"]},{"filter":"isValid(datum.v)"}],
 "mark":{"type":"line","clip":true,"strokeWidth":1.1,"interpolate":"monotone"},
 "encoding":{"x":{"field":"x","type":"quantitative","scale":{"type":"log","domain":[1,10000]},"axis":{"title":"FITC","values":[1,2,3,4,5,6,7,8,9,10,20,30,40,50,60,70,80,90,100,200,300,400,500,600,700,800,900,1000,2000,3000,4000,5000,6000,7000,8000,9000,10000],"labelExpr":"datum.value==1?'10⁰':datum.value==10?'10¹':datum.value==100?'10²':datum.value==1000?'10³':datum.value==10000?'10⁴':''","tickSize":{"condition":{"test":"datum.value==1||datum.value==10||datum.value==100||datum.value==1000||datum.value==10000","value":3},"value":1.5}}},
  "y":{"field":"v","type":"quantitative","scale":{"domain":[0,200],"nice":false},"axis":{"title":"Counts","values":[0,40,80,120,160,200]}},
  "color":{"field":"s","type":"nominal","scale":{"domain":["a","b","d","g"],"range":["#000000","#111111","#333333","#888888"]},"legend":null},
  "strokeDash":{"field":"s","type":"nominal","scale":{"domain":["a","b","d","g"],"range":[[1,0],[3,2],[1,1.5],[1,1.5]]},"legend":null}}},
{"width":106,"height":57,"view":{"stroke":"#000","strokeWidth":1},
 "transform":[{"filter":"datum.p=='G3B'"},{"fold":["a","b","d","g"],"as":["s","v"]},{"filter":"isValid(datum.v)"}],
 "mark":{"type":"line","clip":true,"strokeWidth":1.1,"interpolate":"monotone"},
 "encoding":{"x":{"field":"x","type":"quantitative","scale":{"type":"log","domain":[1,10000]},"axis":{"title":"FITC","values":[1,2,3,4,5,6,7,8,9,10,20,30,40,50,60,70,80,90,100,200,300,400,500,600,700,800,900,1000,2000,3000,4000,5000,6000,7000,8000,9000,10000],"labelExpr":"datum.value==1?'10⁰':datum.value==10?'10¹':datum.value==100?'10²':datum.value==1000?'10³':datum.value==10000?'10⁴':''","tickSize":{"condition":{"test":"datum.value==1||datum.value==10||datum.value==100||datum.value==1000||datum.value==10000","value":3},"value":1.5}}},
  "y":{"field":"v","type":"quantitative","scale":{"domain":[0,100],"nice":false},"axis":{"title":"Counts","values":[0,20,40,60,80,100]}},
  "color":{"field":"s","type":"nominal","scale":{"domain":["a","b","d","g"],"range":["#000000","#111111","#333333","#888888"]},"legend":null},
  "strokeDash":{"field":"s","type":"nominal","scale":{"domain":["a","b","d","g"],"range":[[1,0],[3,2],[1,1.5],[1,1.5]]},"legend":null}}},
{"width":34,"height":58,"data":{"name":"goat"},"transform":[{"filter":"datum.row==3"}],"mark":{"type":"text","baseline":"middle","fontSize":16,"fontWeight":"bold","color":"#111"},"encoding":{"text":{"field":"pct"}}}
]
}
